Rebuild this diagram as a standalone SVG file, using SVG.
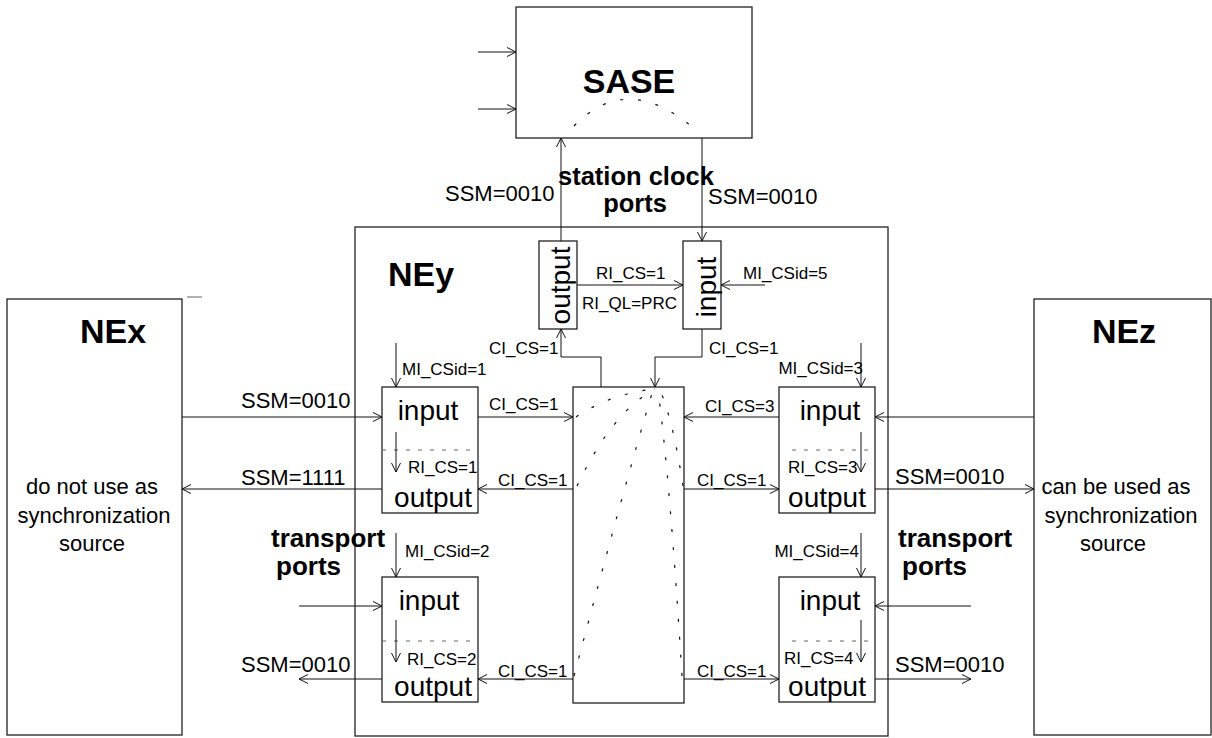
<svg xmlns="http://www.w3.org/2000/svg" width="1212" height="738" viewBox="0 0 1212 738">
<style>
text{font-family:"Liberation Sans",Arial,sans-serif;fill:#000}
.box{fill:#fff;stroke:#222;stroke-width:1.3}
.ln{fill:none;stroke:#111;stroke-width:1}
.dash{fill:none;stroke:#666;stroke-width:1;stroke-dasharray:4,8}
.dot{fill:none;stroke:#111;stroke-width:1.2;stroke-dasharray:3,15}
.lg{font-size:22px}
.sm{font-size:17px}
.io{font-size:28px}
.bd{font-weight:bold;font-size:26px}
.ti{font-weight:bold;font-size:34px}
.mid{text-anchor:middle}
.end{text-anchor:end}
</style>
<defs>
<marker id="a" markerWidth="12" markerHeight="12" refX="10" refY="6" orient="auto" markerUnits="userSpaceOnUse">
<path d="M1,1.5 L10,6 L1,10.5" fill="none" stroke="#111" stroke-width="1"/>
</marker>
</defs>
<rect width="1212" height="738" fill="#fff"/>

<g id="NEy">
<rect class="box" x="355" y="227" width="533" height="509"/>
<text class="ti" x="388" y="286">NEy</text>
</g>

<g id="SASE">
<rect class="box" x="516" y="7" width="236" height="131"/>
<text class="ti mid" x="629" y="93">SASE</text>
<path class="dot" stroke-dasharray="4,14" d="M574,126 Q628,70 697,131"/>
</g>

<g id="NEx">
<rect class="box" x="7" y="299" width="175" height="436"/>
<line x1="187" y1="297" x2="202" y2="297" stroke="#666" stroke-width="1"/>
<text class="ti mid" x="113" y="343">NEx</text>
<text class="lg mid" x="92" y="494">do not use as</text>
<text class="lg mid" x="94" y="523">synchronization</text>
<text class="lg mid" x="92" y="551">source</text>
</g>

<g id="NEz">
<rect class="box" x="1034" y="299" width="177" height="436"/>
<text class="ti mid" x="1124" y="343">NEz</text>
<text class="lg mid" x="1116" y="494">can be used as</text>
<text class="lg mid" x="1121" y="523">synchronization</text>
<text class="lg mid" x="1113" y="551">source</text>
</g>

<g id="sc-output">
<rect class="box" x="539" y="241" width="38" height="88"/>
<text class="io mid" transform="translate(570,285.5) rotate(-90)">output</text>
</g>

<g id="sc-input">
<rect class="box" x="683" y="241" width="38" height="88"/>
<text class="io mid" transform="translate(716,287) rotate(-90)">input</text>
</g>

<g id="switch">
<rect class="box" x="573" y="387" width="111" height="316"/>
<path class="dot" d="M576,417 Q612,393 655,389"/>
<path class="dot" d="M577,486 Q612,412 655,389"/>
<path class="dot" d="M574,676 Q626,480 653,390"/>
<path class="dot" d="M682,676 Q670,480 658,390"/>
<path class="dot" d="M683,486 Q673,420 660,390"/>
</g>

<g id="port-1">
<rect class="box" x="382" y="387" width="96" height="126"/>
<line class="dash" x1="382" y1="450" x2="478" y2="450"/>
<text class="io mid" x="428" y="420">input</text>
<text class="io mid" x="433" y="507">output</text>
</g>

<g id="port-2">
<rect class="box" x="382" y="577" width="96" height="125"/>
<line class="dash" x1="382" y1="641" x2="478" y2="641"/>
<text class="io mid" x="429" y="610">input</text>
<text class="io mid" x="433" y="696">output</text>
</g>

<g id="port-3">
<rect class="box" x="779" y="387" width="96" height="126"/>
<line class="dash" x1="792" y1="450" x2="875" y2="450"/>
<text class="io mid" x="830" y="420">input</text>
<text class="io mid" x="827" y="507">output</text>
</g>

<g id="port-4">
<rect class="box" x="779" y="577" width="96" height="125"/>
<line class="dash" x1="792" y1="641" x2="875" y2="641"/>
<text class="io mid" x="830" y="610">input</text>
<text class="io mid" x="827" y="696">output</text>
</g>

<g id="labels">
<text class="bd" x="558" y="185" style="font-size:25.5px">station clock</text>
<text class="bd mid" x="635" y="212" style="font-size:25.5px">ports</text>
<text class="bd" x="271" y="547">transport</text>
<text class="bd" x="276" y="575">ports</text>
<text class="bd" x="898" y="547">transport</text>
<text class="bd" x="902" y="575">ports</text>
</g>

<g id="connectors">
<line class="ln" x1="478" y1="52" x2="516" y2="52" marker-end="url(#a)"/>
<line class="ln" x1="478" y1="109" x2="516" y2="109" marker-end="url(#a)"/>
<line class="ln" x1="561" y1="241" x2="561" y2="138" marker-end="url(#a)"/>
<line class="ln" x1="702" y1="138" x2="702" y2="241" marker-end="url(#a)"/>
<text class="lg" x="445" y="201">SSM=0010</text>
<text class="lg" x="708" y="204">SSM=0010</text>

<line class="ln" x1="577" y1="285" x2="683" y2="285" marker-end="url(#a)"/>
<text class="sm" x="596" y="279">RI_CS=1</text>
<text class="sm" x="582" y="309">RI_QL=PRC</text>
<line class="ln" x1="765" y1="285" x2="721" y2="285" marker-end="url(#a)"/>
<text class="sm" x="743" y="279">MI_CSid=5</text>

<polyline class="ln" points="601,387 601,357 561,357 561,329" marker-end="url(#a)"/>
<text class="sm" x="489" y="354">CI_CS=1</text>
<polyline class="ln" points="702,329 702,357 655,357 655,387" marker-end="url(#a)"/>
<text class="sm" x="709" y="354">CI_CS=1</text>

<line class="ln" x1="396" y1="343" x2="396" y2="387" marker-end="url(#a)"/>
<text class="sm" x="402" y="375">MI_CSid=1</text>
<line class="ln" x1="396" y1="432" x2="396" y2="472" marker-end="url(#a)"/>
<text class="sm" x="408" y="473">RI_CS=1</text>
<line class="ln" x1="182" y1="417" x2="382" y2="417" marker-end="url(#a)"/>
<text class="lg" x="241" y="408">SSM=0010</text>
<line class="ln" x1="382" y1="489" x2="182" y2="489" marker-end="url(#a)"/>
<text class="lg" x="241" y="485">SSM=1111</text>
<line class="ln" x1="478" y1="417" x2="573" y2="417" marker-end="url(#a)"/>
<text class="sm" x="489" y="410">CI_CS=1</text>
<line class="ln" x1="573" y1="489" x2="478" y2="489" marker-end="url(#a)"/>
<text class="sm" x="498" y="486">CI_CS=1</text>

<line class="ln" x1="861" y1="343" x2="861" y2="387" marker-end="url(#a)"/>
<text class="sm end" x="863" y="374">MI_CSid=3</text>
<line class="ln" x1="861" y1="432" x2="861" y2="472" marker-end="url(#a)"/>
<text class="sm" x="788" y="473">RI_CS=3</text>
<line class="ln" x1="779" y1="417" x2="684" y2="417" marker-end="url(#a)"/>
<text class="sm" x="705" y="412">CI_CS=3</text>
<line class="ln" x1="684" y1="489" x2="779" y2="489" marker-end="url(#a)"/>
<text class="sm" x="697" y="486">CI_CS=1</text>
<line class="ln" x1="1034" y1="417" x2="875" y2="417" marker-end="url(#a)"/>
<line class="ln" x1="875" y1="489" x2="1034" y2="489" marker-end="url(#a)"/>
<text class="lg" x="895" y="484">SSM=0010</text>

<line class="ln" x1="396" y1="533" x2="396" y2="577" marker-end="url(#a)"/>
<text class="sm" x="405" y="557">MI_CSid=2</text>
<line class="ln" x1="299" y1="606" x2="382" y2="606" marker-end="url(#a)"/>
<line class="ln" x1="396" y1="620" x2="396" y2="662" marker-end="url(#a)"/>
<text class="sm" x="407" y="665">RI_CS=2</text>
<line class="ln" x1="382" y1="679" x2="299" y2="679" marker-end="url(#a)"/>
<text class="lg" x="241" y="672">SSM=0010</text>
<line class="ln" x1="573" y1="679" x2="478" y2="679" marker-end="url(#a)"/>
<text class="sm" x="498" y="677">CI_CS=1</text>

<line class="ln" x1="861" y1="533" x2="861" y2="577" marker-end="url(#a)"/>
<text class="sm end" x="859" y="557">MI_CSid=4</text>
<line class="ln" x1="971" y1="606" x2="875" y2="606" marker-end="url(#a)"/>
<line class="ln" x1="861" y1="620" x2="861" y2="662" marker-end="url(#a)"/>
<text class="sm" x="784" y="664">RI_CS=4</text>
<line class="ln" x1="684" y1="679" x2="779" y2="679" marker-end="url(#a)"/>
<text class="sm" x="697" y="677">CI_CS=1</text>
<line class="ln" x1="875" y1="679" x2="971" y2="679" marker-end="url(#a)"/>
<text class="lg" x="895" y="672">SSM=0010</text>
</g>
</svg>
